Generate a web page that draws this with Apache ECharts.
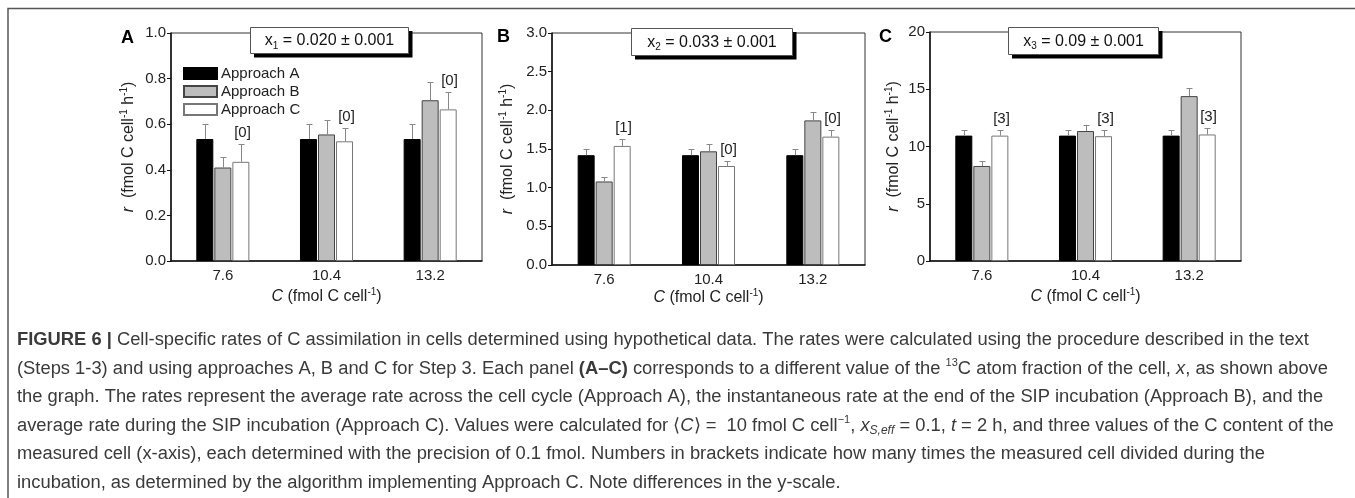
<!DOCTYPE html>
<html>
<head>
<meta charset="utf-8">
<script src="https://cdn.jsdelivr.net/npm/echarts@6/dist/echarts.min.js"></script>
<style>
  html, body { margin: 0; padding: 0; background: #fff; }
  #main { width: 1355px; height: 498px; }
</style>
</head>
<body>
<div id="main"></div>
<script>
// x categories: C content of the measured cell (fmol C cell-1)
const categories = ['7.6', '10.4', '13.2'];
const approaches = ['Approach A', 'Approach B', 'Approach C'];

// panel A, x1 = 0.020
const panelA_approachA = [0.535, 0.535, 0.535];
const panelA_approachA_err = [0.065, 0.065, 0.065];
const panelA_approachB = [0.41, 0.555, 0.705];
const panelA_approachB_err = [0.045, 0.065, 0.08];
const panelA_approachC = [0.435, 0.525, 0.665];
const panelA_approachC_err = [0.08, 0.06, 0.075];
const panelA_divisions = [0, 0, 0];
const panelA_ticks = [0, 1, 0.2];

// panel B, x2 = 0.033
const panelB_approachA = [1.42, 1.42, 1.42];
const panelB_approachA_err = [0.075, 0.075, 0.075];
const panelB_approachB = [1.08, 1.47, 1.87];
const panelB_approachB_err = [0.06, 0.09, 0.11];
const panelB_approachC = [1.54, 1.28, 1.66];
const panelB_approachC_err = [0.09, 0.06, 0.08];
const panelB_divisions = [1, 0, 0];
const panelB_ticks = [0, 3, 0.5];

// panel C, x3 = 0.09
const panelC_approachA = [10.95, 10.95, 10.95];
const panelC_approachA_err = [0.5, 0.5, 0.5];
const panelC_approachB = [8.3, 11.35, 14.4];
const panelC_approachB_err = [0.45, 0.55, 0.7];
const panelC_approachC = [10.95, 10.9, 11.05];
const panelC_approachC_err = [0.5, 0.5, 0.55];
const panelC_divisions = [3, 3, 3];
const panelC_ticks = [0, 20, 5];

const FONT = '"Liberation Sans", Arial, sans-serif';

const panels = [
  { letter: 'A', sub: '1', frac: '0.020', ticks: panelA_ticks, digits: 1,
    vals: [panelA_approachA, panelA_approachB, panelA_approachC],
    errs: [panelA_approachA_err, panelA_approachB_err, panelA_approachC_err],
    div: panelA_divisions,
    grid: { left: 171, top: 33, width: 311, height: 228 },
    box: [250, 27, 158, 26], letterPos: [121, 38], yGap: 33, xGap: 26 },
  { letter: 'B', sub: '2', frac: '0.033', ticks: panelB_ticks, digits: 1,
    vals: [panelB_approachA, panelB_approachB, panelB_approachC],
    errs: [panelB_approachA_err, panelB_approachB_err, panelB_approachC_err],
    div: panelB_divisions,
    grid: { left: 552, top: 33, width: 313, height: 232 },
    box: [631, 28, 161, 27], letterPos: [497, 37], yGap: 35, xGap: 23 },
  { letter: 'C', sub: '3', frac: '0.09', ticks: panelC_ticks, digits: 0,
    vals: [panelC_approachA, panelC_approachB, panelC_approachC],
    errs: [panelC_approachA_err, panelC_approachB_err, panelC_approachC_err],
    div: panelC_divisions,
    grid: { left: 930, top: 32, width: 311, height: 229 },
    box: [1008, 27, 150, 27], letterPos: [879, 37], yGap: 27, xGap: 26 }
];

const barStyles = [
  { color: '#000', borderColor: '#000', borderWidth: 1 },
  { color: '#bdbdbd', borderColor: '#444', borderWidth: 1 },
  { color: '#fff', borderColor: '#777', borderWidth: 1 }
];
const BAR_W = 17;

function errorBars(offset, showDiv) {
  return function (params, api) {
    const i = api.value(0), v = api.value(1), e = api.value(2);
    const base = api.coord([i, v]);
    const tip = api.coord([i, v + e]);
    const x = Math.round(base[0] + offset) + 0.5;
    const ty = Math.round(tip[1]) + 0.5;
    const kids = [
      { type: 'line', shape: { x1: x, y1: base[1], x2: x, y2: ty }, style: { stroke: '#888', lineWidth: 1 } },
      { type: 'line', shape: { x1: x - 3, y1: ty, x2: x + 3, y2: ty }, style: { stroke: '#888', lineWidth: 1 } }
    ];
    if (showDiv) {
      kids.push({ type: 'text', x: x + 1, y: ty - 12,
        style: { text: '[' + api.value(3) + ']', fontSize: 15, fontFamily: FONT, fill: '#222',
                 align: 'center', verticalAlign: 'middle' } });
    }
    return { type: 'group', children: kids };
  };
}

const nameRich = {
  i: { fontSize: 16, fontFamily: FONT, fontStyle: 'italic', color: '#222', lineHeight: 19 },
  n: { fontSize: 16, fontFamily: FONT, color: '#222', lineHeight: 19 },
  s: { fontSize: 10, fontFamily: FONT, color: '#222', lineHeight: 10, verticalAlign: 'top' }
};

const option = {
  animation: false,
  backgroundColor: '#fff',
  grid: [], xAxis: [], yAxis: [], series: [],
  legend: {
    data: approaches, orient: 'vertical', left: 183, top: 66, padding: 0,
    itemWidth: 33, itemHeight: 11, itemGap: 3, icon: 'rect',
    textStyle: { fontSize: 15, fontFamily: FONT, color: '#222', lineHeight: 15, padding: [0, 0, 0, -1] },
    selectedMode: false
  },
  graphic: []
};

panels.forEach((p, k) => {
  option.grid.push(Object.assign({ show: true, borderColor: '#333', borderWidth: 1, containLabel: false }, p.grid));
  option.xAxis.push({
    gridIndex: k, type: 'category', data: categories,
    axisLine: { lineStyle: { color: '#111', width: 1.5 } },
    axisTick: { show: false },
    axisLabel: { fontSize: 15, fontFamily: FONT, color: '#222', margin: 7 },
    name: '{i|C}{n| (fmol C cell}{s|-1}{n|)}', nameLocation: 'middle', nameGap: p.xGap,
    nameTextStyle: { rich: nameRich }
  });
  option.yAxis.push({
    gridIndex: k, type: 'value', min: p.ticks[0], max: p.ticks[1], interval: p.ticks[2],
    axisLine: { show: true, lineStyle: { color: '#111', width: 1.5 } },
    axisTick: { show: true, inside: false, length: 4, lineStyle: { color: '#111' } },
    splitLine: { show: false },
    axisLabel: { fontSize: 15, fontFamily: FONT, color: '#222', margin: 5,
                 formatter: v => v.toFixed(p.digits) },
    name: '{i|r}{n|  (fmol C cell}{s|-1}{n| h}{s|-1}{n|)}', nameLocation: 'middle', nameGap: p.yGap,
    nameTextStyle: { rich: nameRich }
  });
  approaches.forEach((name, j) => {
    option.series.push({
      name: name, type: 'bar', xAxisIndex: k, yAxisIndex: k,
      data: p.vals[j], barWidth: BAR_W, barGap: '6%',
      itemStyle: barStyles[j]
    });
  });
  approaches.forEach((name, j) => {
    option.series.push({
      name: name + ' error', type: 'custom', xAxisIndex: k, yAxisIndex: k, z: 3,
      renderItem: errorBars((j - 1) * (BAR_W + 1), j === 2),
      data: p.vals[j].map((v, i) => [i, v, p.errs[j][i], p.div[i]])
    });
  });
  // boxed x value above each panel, with a hard black drop shadow on right and bottom
  const [bx, by, bw, bh] = p.box;
  option.graphic.push({
    type: 'polyline', z: 100, z2: 1,
    shape: { points: [[bx + bw + 2.5, by + 4], [bx + bw + 2.5, by + bh + 2.5], [bx + 4, by + bh + 2.5]] },
    style: { stroke: '#000', lineWidth: 4, fill: null }
  });
  option.graphic.push({
    type: 'rect', z: 100, z2: 2,
    shape: { x: bx + 0.5, y: by + 0.5, width: bw, height: bh },
    style: { fill: '#fff', stroke: '#555', lineWidth: 1 }
  });
  option.graphic.push({
    type: 'text', z: 100, z2: 3, x: bx + bw / 2 + 0.5, y: by + bh / 2 + 1,
    style: { text: '{v|x}{s|' + p.sub + '}{v| = ' + p.frac + ' ± 0.001}', align: 'center', verticalAlign: 'middle',
      rich: {
        v: { fontSize: 16, fontFamily: FONT, fill: '#111', lineHeight: 20 },
        s: { fontSize: 10, fontFamily: FONT, fill: '#111', lineHeight: 12, verticalAlign: 'bottom' }
      } }
  });
  option.graphic.push({ type: 'text', x: p.letterPos[0], y: p.letterPos[1],
    style: { text: p.letter, font: 'bold 18px ' + FONT, fill: '#000', verticalAlign: 'middle' } });
});

// figure frame
option.graphic.push({ type: 'polyline', shape: { points: [[8, 498], [8, 8.5], [1355, 8.5]] },
  style: { stroke: '#555', lineWidth: 1.5, fill: null } });

// caption
const CAP = 18.35;
const capRich = {
  b: { fontSize: CAP, fontFamily: FONT, fontWeight: 'bold', fill: '#3a3a3a', lineHeight: 22 },
  i: { fontSize: CAP, fontFamily: FONT, fontStyle: 'italic', fill: '#3a3a3a', lineHeight: 22 },
  n: { fontSize: CAP, fontFamily: FONT, fill: '#3a3a3a', lineHeight: 22 },
  sup: { fontSize: 11, fontFamily: FONT, fill: '#3a3a3a', lineHeight: 11, verticalAlign: 'top' },
  isub: { fontSize: 12, fontFamily: FONT, fontStyle: 'italic', fill: '#3a3a3a', lineHeight: 12, verticalAlign: 'bottom' }
};
const captionLines = [
  '{b|FIGURE 6 |}{n| Cell-specific rates of C assimilation in cells determined using hypothetical data. The rates were calculated using the procedure described in the text}',
  '{n|(Steps 1-3) and using approaches A, B and C for Step 3. Each panel }{b|(A–C)}{n| corresponds to a different value of the }{sup|13}{n|C atom fraction of the cell, }{i|x}{n|, as shown above}',
  '{n|the graph. The rates represent the average rate across the cell cycle (Approach A), the instantaneous rate at the end of the SIP incubation (Approach B), and the}',
  '{n|average rate during the SIP incubation (Approach C). Values were calculated for ⟨}{i|C}{n|⟩ =  10 fmol C cell}{sup|−1}{n|, }{i|x}{isub|S,eff}{n| = 0.1, }{i|t}{n| = 2 h, and three values of the C content of the}',
  '{n|measured cell (x-axis), each determined with the precision of 0.1 fmol. Numbers in brackets indicate how many times the measured cell divided during the}',
  '{n|incubation, as determined by the algorithm implementing Approach C. Note differences in the y-scale.}'
];
captionLines.forEach((line, i) => {
  option.graphic.push({ type: 'text', x: 17, y: 340 + i * 28.5,
    style: { text: line, rich: capRich, verticalAlign: 'middle', fill: '#3a3a3a' } });
});

const chart = echarts.init(document.getElementById('main'));
chart.setOption(option);
</script>
</body>
</html>
